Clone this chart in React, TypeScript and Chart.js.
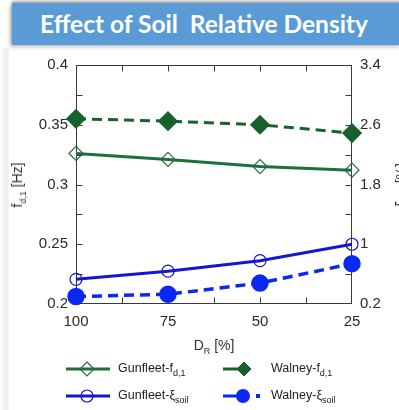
import React, { useEffect, useRef } from "react";
import { Chart, registerables } from "chart.js";

Chart.register(...registerables);

// ---- data ----
const relativeDensity = [100, 75, 50, 25];
const gunfleetF = [0.326, 0.321, 0.315, 0.312];
const walneyF = [0.355, 0.353, 0.350, 0.343];
const gunfleetXi = [0.53, 0.64, 0.78, 1.0];
const walneyXi = [0.30, 0.33, 0.48, 0.74];

const xMajorTicks = [100, 75, 50, 25];
const leftMajorTicks = [0.2, 0.25, 0.3, 0.35, 0.4];
const rightMajorTicks = [0.2, 1, 1.8, 2.6, 3.4];

const GREEN = "#1f6e3d";
const GREEN_DARK = "#17612f";
const BLUE = "#1616d2";
const BLUE_BRIGHT = "#0a28f2";
const FONT = "'Liberation Sans', Arial, sans-serif";

const pts = (ys: number[]) => relativeDensity.map((x, i) => ({ x, y: ys[i] }));
const isMajor = (v: number, majors: number[]) => majors.some((m) => Math.abs(m - v) < 1e-6);
const fmt = (v: number) => String(Number(v.toFixed(3)));

const framePlugin = {
  id: "frame",
  beforeDatasetsDraw(chart: any) {
    const { ctx, chartArea: a, scales } = chart;
    const L = Math.round(a.left) + 0.5;
    const R = Math.round(a.right) - 0.5;
    const T = Math.round(a.top) + 0.5;
    const B = Math.round(a.bottom) - 0.5;
    const len = 6;
    ctx.save();
    ctx.strokeStyle = "#3a3a3a";
    ctx.lineWidth = 1;
    ctx.strokeRect(L, T, R - L, B - T);
    ctx.beginPath();
    scales.x.ticks.forEach((t: any) => {
      const p = Math.round(scales.x.getPixelForValue(t.value)) + 0.5;
      if (p <= L + 1 || p >= R - 1) return;
      ctx.moveTo(p, B);
      ctx.lineTo(p, B - len);
      ctx.moveTo(p, T);
      ctx.lineTo(p, T + len);
    });
    scales.y.ticks.forEach((t: any) => {
      const p = Math.round(scales.y.getPixelForValue(t.value)) + 0.5;
      if (p <= T + 1 || p >= B - 1) return;
      ctx.moveTo(L, p);
      ctx.lineTo(L + len, p);
    });
    scales.y1.ticks.forEach((t: any) => {
      const p = Math.round(scales.y1.getPixelForValue(t.value)) + 0.5;
      if (p <= T + 1 || p >= B - 1) return;
      ctx.moveTo(R, p);
      ctx.lineTo(R - len, p);
    });
    ctx.stroke();
    ctx.restore();
  },
};

const Sub = ({ children, size = 9 }: { children: any; size?: number }) => (
  <span style={{ fontSize: size, position: "relative", top: 4 }}>{children}</span>
);

function LegendSymbol({ kind }: { kind: string }) {
  if (kind === "gf")
    return (
      <svg width={46} height={16} style={{ display: "block" }}>
        <line x1={0} y1={8} x2={44} y2={8} stroke={GREEN} strokeWidth={3} />
        <polygon points="21,1 28,8 21,15 14,8" fill="none" stroke={GREEN} strokeWidth={1.2} />
      </svg>
    );
  if (kind === "gx")
    return (
      <svg width={46} height={16} style={{ display: "block" }}>
        <line x1={0} y1={8} x2={44} y2={8} stroke={BLUE} strokeWidth={3} />
        <circle cx={21} cy={8} r={6} fill="none" stroke={BLUE} strokeWidth={1.2} />
      </svg>
    );
  if (kind === "wf")
    return (
      <svg width={40} height={18} style={{ display: "block" }}>
        <line x1={0} y1={9} x2={20} y2={9} stroke={GREEN_DARK} strokeWidth={3} />
        <polygon points="21,2 28,9 21,16 14,9" fill={GREEN_DARK} stroke={GREEN_DARK} strokeWidth={1} />
      </svg>
    );
  return (
    <svg width={40} height={18} style={{ display: "block" }}>
      <line x1={0} y1={9} x2={14} y2={9} stroke={BLUE_BRIGHT} strokeWidth={3} />
      <circle cx={20} cy={9} r={7} fill={BLUE_BRIGHT} />
      <rect x={33} y={7} width={4} height={4} fill={BLUE_BRIGHT} />
    </svg>
  );
}

export default function App() {
  const ref = useRef<HTMLCanvasElement>(null);

  useEffect(() => {
    if (!ref.current) return;
    const tickFont = { family: FONT, size: 15 };
    const chart = new Chart(ref.current, {
      type: "line",
      data: {
        datasets: [
          {
            label: "Walney-f",
            data: pts(walneyF),
            yAxisID: "y",
            borderColor: GREEN_DARK,
            backgroundColor: GREEN_DARK,
            borderWidth: 3,
            borderDash: [10, 6],
            pointStyle: "rectRot",
            pointRadius: 8,
            pointBackgroundColor: GREEN_DARK,
            pointBorderColor: GREEN_DARK,
            clip: false,
          },
          {
            label: "Gunfleet-f",
            data: pts(gunfleetF),
            yAxisID: "y",
            borderColor: GREEN,
            backgroundColor: GREEN,
            borderWidth: 3,
            pointStyle: "rectRot",
            pointRadius: 7,
            pointBorderWidth: 1.2,
            pointBackgroundColor: "rgba(255,255,255,0)",
            pointBorderColor: GREEN,
            clip: false,
          },
          {
            label: "Gunfleet-xi",
            data: pts(gunfleetXi),
            yAxisID: "y1",
            borderColor: BLUE,
            backgroundColor: BLUE,
            borderWidth: 3,
            pointStyle: "circle",
            pointRadius: 6,
            pointBorderWidth: 1.2,
            pointBackgroundColor: "rgba(255,255,255,0)",
            pointBorderColor: BLUE,
            clip: false,
          },
          {
            label: "Walney-xi",
            data: pts(walneyXi),
            yAxisID: "y1",
            borderColor: BLUE_BRIGHT,
            backgroundColor: BLUE_BRIGHT,
            borderWidth: 3.5,
            borderDash: [10, 6],
            pointStyle: "circle",
            pointRadius: 7,
            pointBackgroundColor: BLUE_BRIGHT,
            pointBorderColor: BLUE_BRIGHT,
            clip: false,
          },
        ],
      },
      options: {
        animation: false,
        responsive: false,
        maintainAspectRatio: false,
        layout: { padding: { top: 14, left: 0, right: 0, bottom: 0 } },
        plugins: { legend: { display: false }, tooltip: { enabled: false }, title: { display: false } },
        scales: {
          x: {
            type: "linear",
            reverse: true,
            min: 25,
            max: 100,
            grid: { display: false, drawTicks: false },
            border: { display: false },
            ticks: {
              stepSize: 12.5,
              autoSkip: false,
              maxRotation: 0,
              padding: 9,
              color: "#2a2a2a",
              font: tickFont,
              callback: (v: any) => (isMajor(Number(v), xMajorTicks) ? fmt(Number(v)) : ""),
            },
            afterFit: (s: any) => {
              s.height = 34;
            },
          },
          y: {
            type: "linear",
            position: "left",
            min: 0.2,
            max: 0.4,
            grid: { display: false, drawTicks: false },
            border: { display: false },
            ticks: {
              stepSize: 0.025,
              autoSkip: false,
              padding: 8,
              color: "#2a2a2a",
              font: tickFont,
              callback: (v: any) => (isMajor(Number(v), leftMajorTicks) ? fmt(Number(v)) : ""),
            },
            afterFit: (s: any) => {
              s.width = 76;
            },
          },
          y1: {
            type: "linear",
            position: "right",
            min: 0.2,
            max: 3.4,
            grid: { display: false, drawTicks: false },
            border: { display: false },
            ticks: {
              stepSize: 0.4,
              autoSkip: false,
              padding: 8,
              color: "#2a2a2a",
              font: tickFont,
              callback: (v: any) => (isMajor(Number(v), rightMajorTicks) ? fmt(Number(v)) : ""),
            },
            afterFit: (s: any) => {
              s.width = 47;
            },
          },
        },
      },
      plugins: [framePlugin],
    } as any);
    return () => chart.destroy();
  }, []);

  const labelStyle: React.CSSProperties = {
    position: "absolute",
    fontFamily: FONT,
    fontSize: 12.5,
    color: "#222",
    whiteSpace: "nowrap",
    lineHeight: "16px",
  };

  return (
    <div
      style={{
        position: "absolute",
        left: 0,
        top: 0,
        width: 399,
        height: 410,
        overflow: "hidden",
        background: "#fff",
      }}
    >
      <div
        style={{
          position: "absolute",
          left: 0,
          top: 48,
          width: 9,
          height: 362,
          background: "linear-gradient(to right, #ffffff, #ececec 70%, #f6f6f6)",
        }}
      />
      <div
        style={{
          position: "absolute",
          left: 12,
          top: 3,
          width: 390,
          height: 42,
          background: "#5b9bd5",
          boxShadow: "0 -2px 3px rgba(0,0,0,0.35), -2px 2px 4px rgba(0,0,0,0.25)",
          color: "#fff",
          fontFamily: "Lato, 'Open Sans', sans-serif",
          fontWeight: 700,
          fontSize: 24.5,
          lineHeight: "42px",
          textAlign: "center",
          whiteSpace: "pre",
          paddingRight: 6,
          boxSizing: "border-box",
        }}
      >
        {"Effect of Soil  Relative Density"}
      </div>

      <canvas
        ref={ref}
        width={399}
        height={290}
        style={{ position: "absolute", left: 0, top: 48, width: 399, height: 290 }}
      />

      {/* left axis title */}
      <div
        style={{
          position: "absolute",
          left: 17,
          top: 185,
          transform: "translate(-50%, -50%) rotate(-90deg)",
          fontFamily: FONT,
          fontSize: 14,
          color: "#333",
          whiteSpace: "nowrap",
        }}
      >
        f<Sub>d,1</Sub> [Hz]
      </div>

      {/* right axis title */}
      <div
        style={{
          position: "absolute",
          left: 401,
          top: 185,
          transform: "translate(-50%, -50%) rotate(-90deg)",
          fontFamily: FONT,
          fontSize: 14,
          color: "#333",
          whiteSpace: "nowrap",
        }}
      >
        ξ<Sub>soil</Sub> [%]
      </div>

      {/* x axis title */}
      <div
        style={{
          position: "absolute",
          left: 214,
          top: 345,
          transform: "translate(-50%, -50%)",
          fontFamily: FONT,
          fontSize: 14,
          color: "#333",
          whiteSpace: "nowrap",
        }}
      >
        D<Sub size={9}>R</Sub> [%]
      </div>

      {/* legend */}
      <div style={{ position: "absolute", left: 66, top: 361 }}>
        <LegendSymbol kind="gf" />
      </div>
      <div style={{ ...labelStyle, left: 118, top: 360 }}>
        Gunfleet-f<Sub size={9}>d,1</Sub>
      </div>
      <div style={{ position: "absolute", left: 223, top: 360 }}>
        <LegendSymbol kind="wf" />
      </div>
      <div style={{ ...labelStyle, left: 271, top: 360 }}>
        Walney-f<Sub size={9}>d,1</Sub>
      </div>

      <div style={{ position: "absolute", left: 66, top: 388 }}>
        <LegendSymbol kind="gx" />
      </div>
      <div style={{ ...labelStyle, left: 118, top: 387 }}>
        Gunfleet-ξ<Sub size={9}>soil</Sub>
      </div>
      <div style={{ position: "absolute", left: 223, top: 387 }}>
        <LegendSymbol kind="wx" />
      </div>
      <div style={{ ...labelStyle, left: 271, top: 387 }}>
        Walney-ξ<Sub size={9}>soil</Sub>
      </div>
    </div>
  );
}
